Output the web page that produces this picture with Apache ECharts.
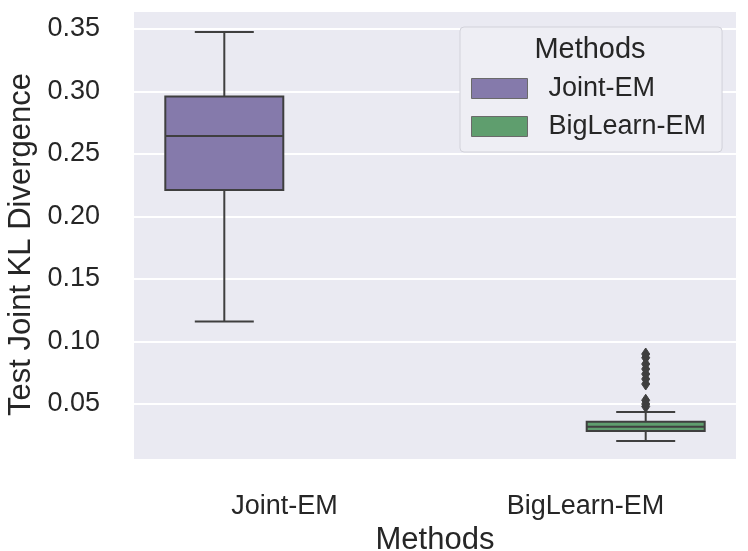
<!DOCTYPE html>
<html><head><meta charset="utf-8">
<script src="https://cdn.jsdelivr.net/npm/echarts@6/dist/echarts.min.js"></script>
<style>html,body{margin:0;padding:0;background:#fff}#c{width:748px;height:551px}</style>
</head><body><div id="c"></div>
<script>
const categories = ['Joint-EM', 'BigLearn-EM'];
const methods = ['Joint-EM', 'BigLearn-EM'];
// [min, Q1, median, Q3, max]
const jointEMBox = [0.116, 0.2212, 0.2644, 0.296, 0.3476];
const bigLearnEMBox = [0.0204, 0.0284, 0.0318, 0.0358, 0.0436];
const bigLearnEMOutliers = [0.048, 0.050, 0.053, 0.066, 0.070, 0.074, 0.078, 0.082, 0.087, 0.090];
const yTicks = [0.05, 0.10, 0.15, 0.20, 0.25, 0.30, 0.35];
const colors = ['#857aab', '#5f9e6e'];
const lineColor = '#3f3f3f';
const FONT = '"Liberation Sans", Arial, sans-serif';

function renderBox(hueIdx) {
  return function (params, api) {
    const cat = api.value(0);
    const band = api.size([1, 0])[0];
    const off = (hueIdx === 0 ? -0.2 : 0.2) * band;
    const w = band * 0.392;
    const pMin = api.coord([cat, api.value(1)]);
    const pQ1 = api.coord([cat, api.value(2)]);
    const pMed = api.coord([cat, api.value(3)]);
    const pQ3 = api.coord([cat, api.value(4)]);
    const pMax = api.coord([cat, api.value(5)]);
    const cx = pMin[0] + off;
    const st = { stroke: lineColor, lineWidth: 2 };
    return {
      type: 'group',
      children: [
        { type: 'line', shape: { x1: cx, y1: pMax[1], x2: cx, y2: pQ3[1] }, style: st },
        { type: 'line', shape: { x1: cx, y1: pQ1[1], x2: cx, y2: pMin[1] }, style: st },
        { type: 'line', shape: { x1: cx - w / 4, y1: pMax[1], x2: cx + w / 4, y2: pMax[1] }, style: st },
        { type: 'line', shape: { x1: cx - w / 4, y1: pMin[1], x2: cx + w / 4, y2: pMin[1] }, style: st },
        { type: 'rect', shape: { x: cx - w / 2, y: pQ3[1], width: w, height: pQ1[1] - pQ3[1] },
          style: { fill: colors[hueIdx], stroke: lineColor, lineWidth: 2 } },
        { type: 'line', shape: { x1: cx - w / 2, y1: pMed[1], x2: cx + w / 2, y2: pMed[1] }, style: st }
      ]
    };
  };
}

function renderOutlier(hueIdx) {
  return function (params, api) {
    const band = api.size([1, 0])[0];
    const off = (hueIdx === 0 ? -0.2 : 0.2) * band;
    const p = api.coord([api.value(0), api.value(1)]);
    const x = p[0] + off, y = p[1];
    return {
      type: 'polygon',
      shape: { points: [[x, y - 6], [x + 4, y], [x, y + 6], [x - 4, y]] },
      style: { fill: lineColor, stroke: lineColor, lineWidth: 1 }
    };
  };
}

const chart = echarts.init(document.getElementById('c'));
chart.setOption({
  animation: false,
  textStyle: { fontFamily: FONT },
  title: {
    text: 'Methods', left: 590, top: 35, textAlign: 'center', padding: 0,
    textStyle: { fontSize: 29, fontWeight: 'normal', color: '#262626', fontFamily: FONT }
  },
  legend: {
    orient: 'vertical', left: 460, top: 27,
    padding: [46, 16, 10, 11],
    itemWidth: 56, itemHeight: 20, itemGap: 7,
    selectedMode: false,
    backgroundColor: '#eeeef4', borderColor: '#d2d2da', borderWidth: 1, borderRadius: 4,
    textStyle: { fontSize: 27, color: '#262626', fontFamily: FONT, padding: [0, 0, 0, 16], lineHeight: 31 },
    data: methods.map((m, i) => ({ name: m, icon: 'rect', itemStyle: { color: colors[i], borderColor: '#6a6a6a', borderWidth: 1 } }))
  },
  grid: { left: 134, right: 12, top: 12, bottom: 92, show: true, backgroundColor: '#eaeaf2', borderWidth: 0,
    outerBoundsMode: 'none', containLabel: false },
  xAxis: {
    type: 'category', data: categories,
    name: 'Methods', nameLocation: 'middle', nameGap: 50,
    nameTextStyle: { fontSize: 31, color: '#262626', fontFamily: FONT },
    axisLine: { show: false }, axisTick: { show: false },
    axisLabel: { fontSize: 27, color: '#262626', margin: 34, fontFamily: FONT },
    splitLine: { show: false }
  },
  yAxis: {
    type: 'value', min: 0.006, max: 0.3636,
    name: 'Test Joint KL Divergence', nameLocation: 'middle', nameGap: 95,
    nameTextStyle: { fontSize: 31, color: '#262626', fontFamily: FONT, padding: [0, 18, 0, 0] },
    axisLine: { show: false },
    axisTick: { show: false, customValues: yTicks },
    axisLabel: { fontSize: 27, color: '#262626', margin: 34, fontFamily: FONT, customValues: yTicks,
      formatter: v => v.toFixed(2) },
    splitLine: { show: true, lineStyle: { color: '#ffffff', width: 2 } }
  },
  series: [
    { name: methods[0], type: 'custom', renderItem: renderBox(0), itemStyle: { color: colors[0] },
      encode: { x: 0, y: [1, 2, 3, 4, 5] }, data: [[0].concat(jointEMBox)], z: 3 },
    { name: methods[1], type: 'custom', renderItem: renderBox(1), itemStyle: { color: colors[1] },
      encode: { x: 0, y: [1, 2, 3, 4, 5] }, data: [[1].concat(bigLearnEMBox)], z: 3 },
    { name: 'outliers', type: 'custom', renderItem: renderOutlier(1),
      encode: { x: 0, y: 1 }, data: bigLearnEMOutliers.map(v => [1, v]), z: 4 }
  ]
});
</script>
</body></html>
